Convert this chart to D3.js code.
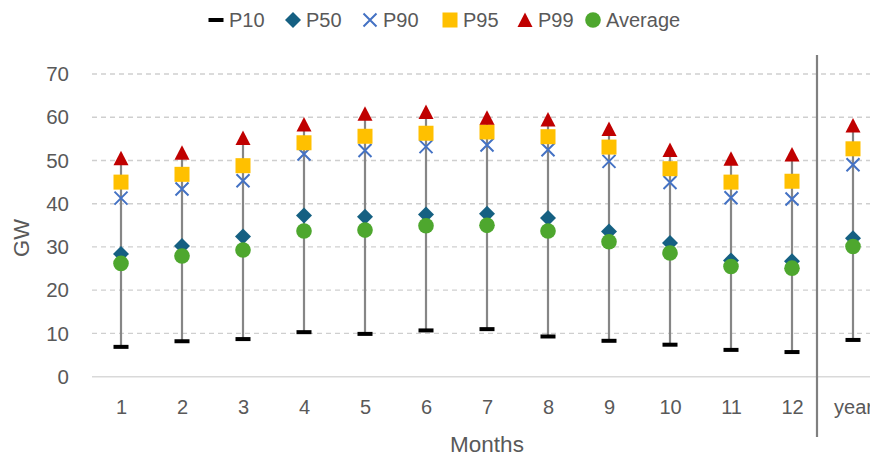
<!DOCTYPE html>
<html><head><meta charset="utf-8">
<script src="https://cdn.jsdelivr.net/npm/d3@7/dist/d3.min.js"></script>
<style>body{margin:0;background:#fff}svg{display:block}text{font-family:"Liberation Sans",Arial,sans-serif;fill:#595959}</style>
</head><body><svg id="c" width="870" height="456"></svg>
<script>
const categories = ["1","2","3","4","5","6","7","8","9","10","11","12","year"];
const p10 = [6.9, 8.2, 8.7, 10.3, 9.9, 10.7, 11.0, 9.3, 8.3, 7.4, 6.2, 5.7, 8.5];
const p50 = [28.4, 30.2, 32.4, 37.3, 37.0, 37.5, 37.7, 36.7, 33.6, 30.9, 26.9, 26.7, 32.0];
const p90 = [41.3, 43.4, 45.3, 51.5, 52.3, 53.2, 53.6, 52.5, 49.8, 44.9, 41.4, 41.1, 49.0];
const p95 = [45.0, 46.8, 48.8, 54.1, 55.6, 56.3, 56.6, 55.5, 53.1, 48.1, 45.0, 45.2, 52.7];
const p99 = [50.5, 51.8, 55.2, 58.3, 60.8, 61.2, 59.9, 59.5, 57.3, 52.4, 50.4, 51.4, 58.1];
const avg = [26.2, 27.9, 29.3, 33.7, 33.9, 34.9, 35.0, 33.7, 31.2, 28.6, 25.5, 25.1, 30.1];
const yTicks = [0,10,20,30,40,50,60,70];
const legendNames = ["P10","P50","P90","P95","P99","Average"];

const svg = d3.select("#c");
const x = d3.scalePoint().domain(categories).range([121, 853]);
const y = d3.scaleLinear().domain([0,70]).range([376.7, 74]);

// gridlines
svg.append("g").selectAll("line").data(yTicks.filter(d=>d>0)).join("line")
  .attr("x1",92).attr("x2",870).attr("y1",d=>y(d)).attr("y2",d=>y(d))
  .attr("stroke","#cfcfcf").attr("stroke-width",1.3).attr("stroke-dasharray","5,4");
svg.append("line").attr("x1",92).attr("x2",870).attr("y1",y(0)).attr("y2",y(0))
  .attr("stroke","#d9d9d9").attr("stroke-width",1.5);

// y axis labels
const yAxis = d3.axisLeft(y).tickValues(yTicks).tickSize(0).tickPadding(0);
const gy = svg.append("g").attr("transform","translate(69,0)").call(yAxis);
gy.select(".domain").remove();
gy.selectAll("text").attr("font-size",20.5).style("fill","#595959").attr("font-family","Liberation Sans, Arial, sans-serif");

// x axis labels
const xAxis = d3.axisBottom(x).tickSize(0).tickPadding(0);
const gx = svg.append("g").attr("transform","translate(0,400)").call(xAxis);
gx.select(".domain").remove();
gx.selectAll("text").attr("font-size",20).attr("dy","0.71em").style("fill","#595959").attr("font-family","Liberation Sans, Arial, sans-serif");

// separator
svg.append("line").attr("x1",817).attr("x2",817).attr("y1",55).attr("y2",437)
  .attr("stroke","#808080").attr("stroke-width",2.2);

// axis titles
svg.append("text").attr("transform","translate(29,238) rotate(-90)").attr("text-anchor","middle")
  .attr("font-size",22).text("GW");
svg.append("text").attr("x",487).attr("y",452).attr("text-anchor","middle").attr("font-size",22.5).text("Months");

// whiskers
svg.append("g").selectAll("line").data(categories).join("line")
  .attr("x1",d=>x(d)).attr("x2",d=>x(d))
  .attr("y1",(d,i)=>y(p10[i])).attr("y2",(d,i)=>y(p99[i]))
  .attr("stroke","#868686").attr("stroke-width",2.2);

const markers = [
  {name:"P10", data:p10, draw:(g)=>g.append("rect").attr("x",-7.5).attr("y",-2).attr("width",15).attr("height",4).attr("fill","#000")},
  {name:"P50", data:p50, draw:(g)=>g.append("path").attr("d","M0,-8L8,0L0,8L-8,0Z").attr("fill","#156082")},
  {name:"P90", data:p90, draw:(g)=>g.append("path").attr("d","M-6.5,-6.5L6.5,6.5M-6.5,6.5L6.5,-6.5").attr("stroke","#4472C4").attr("stroke-width",2).attr("fill","none")},
  {name:"P95", data:p95, draw:(g)=>g.append("rect").attr("x",-7.5).attr("y",-7.5).attr("width",15).attr("height",15).attr("fill","#FFC000")},
  {name:"P99", data:p99, draw:(g)=>g.append("path").attr("d","M0,-7.5L7.5,7L-7.5,7Z").attr("fill","#C00000")},
  {name:"Average", data:avg, draw:(g)=>g.append("circle").attr("r",7.8).attr("fill","#4EA72E")}
];
markers.forEach(m=>{
  svg.append("g").selectAll("g").data(categories).join("g")
    .attr("transform",(d,i)=>`translate(${x(d)},${y(m.data[i])})`)
    .each(function(){ m.draw(d3.select(this)); });
});

// legend
const legX = [216, 293, 370, 450, 525, 593];
const lg = svg.append("g");
markers.forEach((m,i)=>{
  const g = lg.append("g").attr("transform",`translate(${legX[i]},20)`);
  m.draw(g);
  g.append("text").attr("x",13).attr("y",7).attr("font-size",20).text(legendNames[i]);
});
</script></body></html>
